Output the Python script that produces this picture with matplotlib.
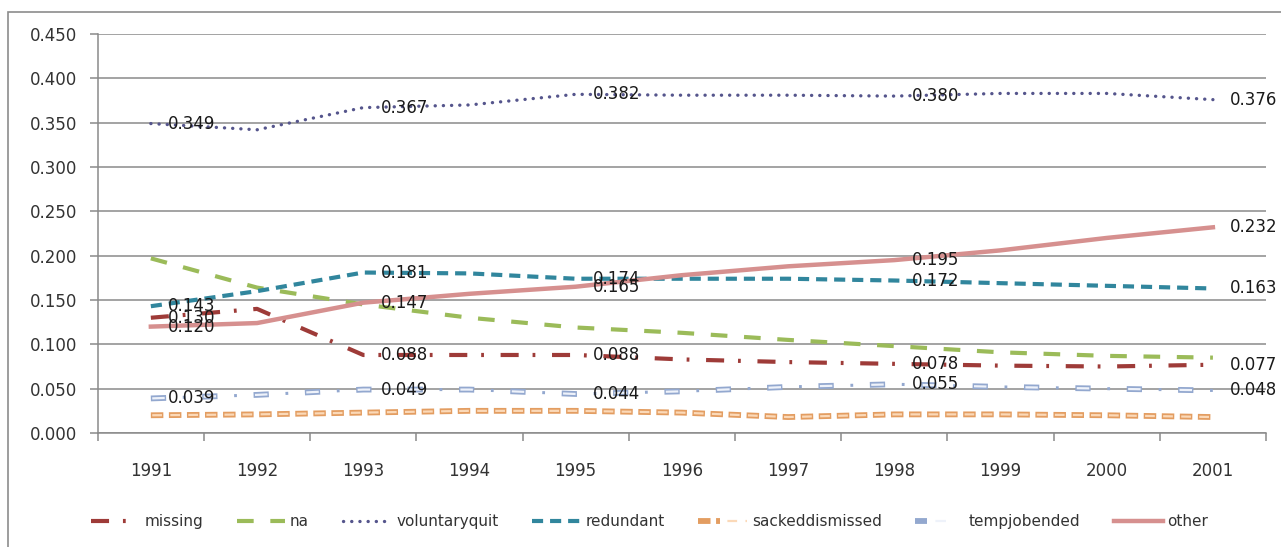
import matplotlib
matplotlib.use("Agg")
import matplotlib.pyplot as plt
from matplotlib.legend_handler import HandlerTuple
from matplotlib.patches import Rectangle

plt.rcParams['lines.scale_dashes'] = False
plt.rcParams['font.family'] = ['DejaVu Sans']

years = ['1991', '1992', '1993', '1994', '1995', '1996', '1997', '1998', '1999', '2000', '2001']

missing = [0.130, 0.140, 0.088, 0.088, 0.088, 0.083, 0.080, 0.078, 0.076, 0.075, 0.077]
na = [0.197, 0.164, 0.145, 0.130, 0.119, 0.113, 0.105, 0.098, 0.091, 0.087, 0.085]
voluntaryquit = [0.349, 0.342, 0.367, 0.370, 0.382, 0.381, 0.381, 0.380, 0.383, 0.383, 0.376]
redundant = [0.143, 0.160, 0.181, 0.180, 0.174, 0.174, 0.174, 0.172, 0.169, 0.166, 0.163]
sackeddismissed = [0.020, 0.021, 0.023, 0.025, 0.025, 0.023, 0.018, 0.021, 0.021, 0.020, 0.018]
tempjobended = [0.039, 0.043, 0.049, 0.049, 0.044, 0.047, 0.052, 0.055, 0.052, 0.050, 0.048]
other = [0.120, 0.124, 0.147, 0.157, 0.165, 0.178, 0.188, 0.195, 0.206, 0.220, 0.232]

# points that carry a data label in the original
label_idx = [0, 2, 4, 7, 10]

x = list(range(len(years)))

fig = plt.figure(figsize=(12.81, 5.47), dpi=100)
ax = fig.add_axes([0.0763, 0.2084, 0.9120, 0.7294])

# chart area border (runs off the right and bottom edges)
fig.patches.append(Rectangle((8 / 1281, -0.05), 1.2, 1.05 - 12 / 547,
                             transform=fig.transFigure, fill=False,
                             edgecolor='#8c8c8c', lw=1.2))

h_missing, = ax.plot(x, missing, color='#9e3b38', lw=3, ls=(0, (13, 10, 2, 12)))
h_na, = ax.plot(x, na, color='#9bbb59', lw=3, ls=(0, (12, 12)))
h_vq, = ax.plot(x, voluntaryquit, color='#55558c', lw=2.4, ls=(0, (0.1, 5.8)),
                dash_capstyle='round')
h_red, = ax.plot(x, redundant, color='#31869d', lw=3, ls=(0, (8, 5)))
# outlined dashes: a wide line with a pale thinner line on top
h_sd1, = ax.plot(x, sackeddismissed, color='#e39d61', lw=4.2, ls=(0, (9, 4)))
h_sd2, = ax.plot(x, sackeddismissed, color='#fbd9b8', lw=1.6, ls=(12, (7, 6)))
h_tj1, = ax.plot(x, tempjobended, color='#93a8cf', lw=4.2, ls=(0, (11, 26)))
h_tj2, = ax.plot(x, tempjobended, color='#eef2fa', lw=1.6, ls=(36, (9, 28)))
h_tj3, = ax.plot(x, tempjobended, color='#93a8cf', lw=2.2, ls=(14, (2, 35)))
h_oth, = ax.plot(x, other, color='#d6908f', lw=3.2)

for series in [missing, voluntaryquit, redundant, tempjobended, other]:
    for i in label_idx:
        ax.annotate(f'{series[i]:.3f}', (x[i], series[i]), xytext=(12.5, 0),
                    textcoords='offset points', ha='left', va='center',
                    fontsize=12, color='#1a1a1a')

ax.set_xlim(-0.5, len(years) - 0.5)
ax.set_ylim(0, 0.45)
ax.set_yticks([i * 0.05 for i in range(10)])
ax.set_yticklabels([f'{i * 0.05:.3f}' for i in range(10)])
ax.yaxis.grid(True, color='#8a8a8a', lw=1.1)
ax.set_axisbelow(True)

ax.set_xticks(x)
ax.set_xticklabels(years)
ax.set_xticks([i - 0.5 for i in range(len(years) + 1)], minor=True)
ax.tick_params(axis='x', which='major', length=0, pad=21, labelsize=12, labelcolor='#333333')
ax.tick_params(axis='x', which='minor', length=5.8, width=1.1, color='#8a8a8a')
ax.tick_params(axis='y', length=5.8, width=1.1, color='#8a8a8a', pad=9,
               labelsize=12, labelcolor='#333333')

for s in ['top', 'right']:
    ax.spines[s].set_visible(False)
for s in ['left', 'bottom']:
    ax.spines[s].set_color('#8a8a8a')
    ax.spines[s].set_linewidth(1.1)

handles = [h_missing, h_na, h_vq, h_red, (h_sd1, h_sd2), (h_tj1, h_tj2, h_tj3), h_oth]
names = ['missing', 'na', 'voluntaryquit', 'redundant', 'sackeddismissed', 'tempjobended', 'other']
fig.legend(handles, names, loc='center', bbox_to_anchor=(0.507, 0.046), ncol=7,
           frameon=False, fontsize=11, handlelength=3.2, handletextpad=0.3,
           columnspacing=2.2, handler_map={tuple: HandlerTuple(ndivide=None)},
           labelcolor='#333333')

fig.savefig('out.png', dpi=100)
